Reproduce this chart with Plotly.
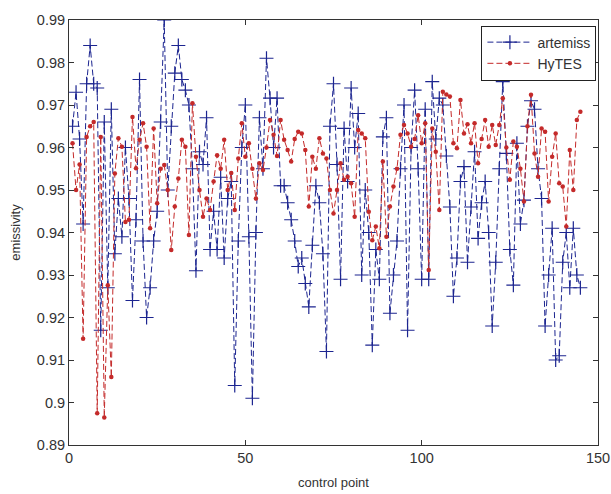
import plotly.graph_objects as go

control_point = list(range(1, 146))

artemiss = [
    0.965, 0.973, 0.962, 0.942, 0.975, 0.984, 0.975, 0.974, 0.917, 0.966,
    0.927, 0.969, 0.935, 0.948, 0.939, 0.960, 0.948, 0.924, 0.943, 0.976,
    0.938, 0.920, 0.927, 0.938, 0.945, 0.966, 0.990, 0.950, 0.965, 0.9775,
    0.984, 0.976, 0.9735, 0.970, 0.955, 0.931, 0.959, 0.956, 0.967, 0.936,
    0.945, 0.936, 0.953, 0.934, 0.948, 0.952, 0.904, 0.938, 0.960, 0.970,
    0.939, 0.901, 0.940, 0.967, 0.955, 0.981, 0.9716, 0.960, 0.9716, 0.951,
    0.951, 0.947, 0.943, 0.938, 0.932, 0.934, 0.928, 0.9225, 0.937, 0.951,
    0.947, 0.935, 0.912, 0.965, 0.975, 0.956, 0.929, 0.9645, 0.952, 0.974,
    0.960, 0.968, 0.930, 0.950, 0.940, 0.9135, 0.936, 0.929, 0.9625, 0.967,
    0.921, 0.930, 0.938, 0.955, 0.970, 0.917, 0.960, 0.9735, 0.955, 0.929,
    0.969, 0.929, 0.9755, 0.962, 0.9716, 0.970, 0.958, 0.946, 0.925, 0.934,
    0.952, 0.9555, 0.933, 0.946, 0.959, 0.9386, 0.947, 0.952, 0.940, 0.918,
    0.933, 0.955, 0.9755, 0.9586, 0.936, 0.9276, 0.961, 0.942, 0.9476, 0.965,
    0.971, 0.969, 0.955, 0.948, 0.918, 0.930, 0.941, 0.910, 0.911, 0.933,
    0.940, 0.927, 0.941, 0.930, 0.927,
]

hytes = [
    0.961, 0.950, 0.956, 0.915, 0.9625, 0.965, 0.966, 0.8975, 0.9625, 0.8965,
    0.9276, 0.906, 0.9539, 0.9622, 0.9602, 0.9425, 0.943, 0.9672, 0.9551, 0.9618,
    0.9657, 0.9602, 0.941, 0.9645, 0.9469, 0.955, 0.9559, 0.950, 0.9359, 0.9461,
    0.9527, 0.9618, 0.9602, 0.9394, 0.9704, 0.9578, 0.950, 0.9437, 0.948, 0.9453,
    0.952, 0.9582, 0.955, 0.9618, 0.950, 0.954, 0.9453, 0.9574, 0.9657, 0.9578,
    0.961, 0.955, 0.948, 0.9563, 0.9547, 0.960, 0.9665, 0.963, 0.958, 0.9665,
    0.9618, 0.9594, 0.9567, 0.962, 0.9637, 0.9633, 0.9594, 0.9461, 0.9578, 0.955,
    0.9622, 0.9586, 0.9574, 0.950, 0.9445, 0.950, 0.9563, 0.9524, 0.9531, 0.9516,
    0.9437, 0.9641, 0.9633, 0.9622, 0.9449, 0.9382, 0.9414, 0.9363, 0.9567, 0.939,
    0.9461, 0.9508, 0.955, 0.963, 0.9653, 0.9633, 0.9602, 0.962, 0.9676, 0.961,
    0.9657, 0.9312, 0.9645, 0.959, 0.9453, 0.9731, 0.9725, 0.972, 0.961, 0.9598,
    0.9712, 0.9633, 0.9655, 0.961, 0.9657, 0.9563, 0.962, 0.9665, 0.9602, 0.9653,
    0.9606, 0.9653, 0.9716, 0.960, 0.9524, 0.9614, 0.9602, 0.955, 0.9473, 0.965,
    0.9724, 0.9586, 0.9531, 0.9645, 0.9637, 0.9473, 0.9578, 0.9633, 0.9516, 0.9508,
    0.9414, 0.9594, 0.950, 0.9665, 0.9684,
]

x_ticks = [0, 50, 100, 150]
y_ticks = [0.89, 0.90, 0.91, 0.92, 0.93, 0.94, 0.95, 0.96, 0.97, 0.98, 0.99]
y_ticktext = ["0.89", "0.9", "0.91", "0.92", "0.93", "0.94", "0.95", "0.96", "0.97", "0.98", "0.99"]

BLUE = "#1c2590"
RED = "#c42a2a"
FONT = "Liberation Sans, Arial, sans-serif"

fig = go.Figure()
fig.add_trace(go.Scatter(
    x=control_point, y=artemiss, name="artemiss", mode="lines+markers",
    line=dict(color=BLUE, width=1, dash="6px,3px"),
    marker=dict(symbol="cross-thin", size=10, line=dict(color=BLUE, width=1.2), color=BLUE),
))
fig.add_trace(go.Scatter(
    x=control_point, y=hytes, name="HyTES", mode="lines+markers",
    line=dict(color=RED, width=1, dash="6px,3px"),
    marker=dict(symbol="circle", size=4.5, color=RED),
))

axis_common = dict(
    showline=True, linecolor="#333333", linewidth=1, mirror="ticks",
    ticks="inside", ticklen=5, tickcolor="#333333",
    showgrid=False, zeroline=False, automargin=False,
    tickfont=dict(family=FONT, size=14.5, color="#333333"),
)

fig.update_xaxes(range=[0, 150], tickvals=x_ticks,
                 title=dict(text="control point", standoff=12,
                            font=dict(family=FONT, size=13, color="#333333")),
                 **axis_common)
fig.update_yaxes(range=[0.89, 0.99], tickvals=y_ticks, ticktext=y_ticktext,
                 title=dict(text="emissivity", standoff=13,
                            font=dict(family=FONT, size=13, color="#333333")),
                 **axis_common)

fig.update_layout(
    width=611, height=494,
    margin=dict(l=69, r=13, t=20, b=49),
    paper_bgcolor="white", plot_bgcolor="white",
    showlegend=True,
    legend=dict(x=0.997, xanchor="right", y=0.987, yanchor="top",
                bgcolor="white", bordercolor="#222222", borderwidth=1,
                font=dict(family=FONT, size=14, color="#333333"),
                tracegroupgap=0, itemwidth=45),
)

fig.write_html("out.html")
